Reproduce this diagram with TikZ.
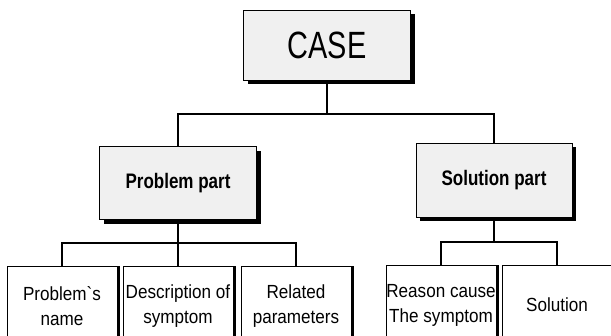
\documentclass[tikz,border=0pt]{standalone}
\usepackage{fontspec}
\setmainfont{Liberation Sans}
\newfontfamily\casefont[FakeStretch=0.76]{Liberation Sans}
\newfontfamily\partfont[FakeStretch=0.81]{Liberation Sans}
\newfontfamily\leaffont[FakeStretch=0.9]{Liberation Sans}
\usetikzlibrary{shadows}
\tikzstyle{topbox}=[
    draw, fill=gray!12, line width=0.8pt, inner sep=0pt,
    drop shadow={shadow xshift=4pt,shadow yshift=-4pt,fill=black,opacity=1}]
\tikzstyle{leaf}=[
    draw, fill=white, line width=0.8pt, inner sep=0pt, align=center,
    minimum width=110pt, minimum height=80pt,
    font=\leaffont\fontsize{19}{25}\selectfont,
    drop shadow={shadow xshift=3pt,shadow yshift=0pt,fill=black,opacity=1}]
\tikzstyle{link}=[line width=1.1pt]
\tikzstyle{bar}=[line width=2pt]

\begin{document}
\begin{tikzpicture}[x=1pt,y=-1pt]

    \useasboundingbox (0,0) rectangle (611,335);
    \clip (0,0) rectangle (611,335);

    \node[topbox,minimum width=167pt,minimum height=70pt,
          font=\casefont\fontsize{38}{38}\selectfont] (case) at (327,45) {CASE};

    \node[topbox,minimum width=157pt,minimum height=73pt,
          font=\partfont\bfseries\fontsize{21}{21}\selectfont] (prob) at (178,183) {Problem part};
    \node[topbox,minimum width=156pt,minimum height=74pt,
          font=\partfont\bfseries\fontsize{21}{21}\selectfont] (sol)  at (494,180) {Solution part};

    \node[leaf] (pname) at ( 62,306) {Problem`s\\name};
    \node[leaf] (pdesc) at (178,306) {Description of\\symptom};
    \node[leaf] (ppara) at (296,306) {Related\\parameters};
    \node[leaf] (sreas) at (441,305) {Reason cause\\The symptom};
    \node[leaf] (ssolu) at (557,305) {Solution};

    \coordinate (top)   at (327,114);
    \coordinate (left)  at (178,243);
    \coordinate (right) at (494,242);

    \draw[link] (case.south) -- (top);
    \draw[link] (prob.north) |- (top) -| (sol.north);

    \draw[bar] (prob.south) -- (left) -- (pdesc.north);
    \draw[bar] (pname.north) |- (left) -| (ppara.north);

    \draw[bar] (sol.south) -- (right);
    \draw[bar] (sreas.north) |- (right) -| (ssolu.north);

\end{tikzpicture}
\end{document}
